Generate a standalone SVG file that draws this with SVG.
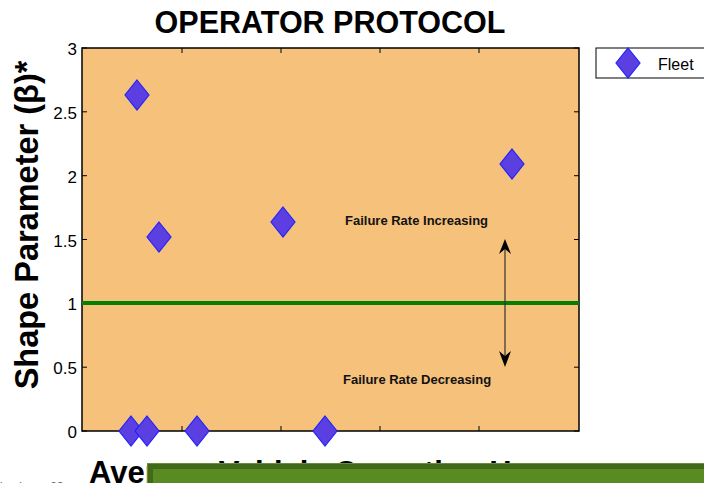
<svg xmlns="http://www.w3.org/2000/svg" width="704" height="483" viewBox="0 0 704 483">
<style>
.tk{font-family:"Liberation Sans",Arial,sans-serif;font-size:17px;fill:#000;text-anchor:end}
.ann{font-family:"Liberation Sans",Arial,sans-serif;font-size:13px;font-weight:bold;fill:#111}
.tick{stroke:#000;stroke-width:1}
.pt{fill:#5B3FE0;stroke:#2222FF;stroke-width:1.2}
</style>
<defs>
<path id="dia" d="M0,-15 L12,0 L0,15 L-12,0 Z"/>
</defs>
<rect width="704" height="483" fill="#fff"/>
<text x="330" y="33" font-family="Liberation Sans,Arial,sans-serif" font-size="30.5" font-weight="bold" text-anchor="middle">OPERATOR PROTOCOL</text>
<g id="plot">
<rect x="82" y="48" width="497" height="383" fill="#F5C17B" stroke="#000" stroke-width="1.5"/>
<g class="tick">
<path d="M82,48h5M82,111.8h5M82,175.7h5M82,239.5h5M82,303.3h5M82,367.2h5M82,431h5"/>
<path d="M579,48h-5M579,111.8h-5M579,175.7h-5M579,239.5h-5M579,303.3h-5M579,367.2h-5M579,431h-5"/>
<path d="M182,431v-5M281,431v-5M380,431v-5M479,431v-5"/>
<path d="M182,48v5M281,48v5M380,48v5M479,48v5"/>
</g>
<text class="tk" x="77" y="55">3</text>
<text class="tk" x="77" y="119">2.5</text>
<text class="tk" x="77" y="183">2</text>
<text class="tk" x="77" y="247">1.5</text>
<text class="tk" x="77" y="310">1</text>
<text class="tk" x="77" y="374">0.5</text>
<text class="tk" x="77" y="438">0</text>
<line x1="82" y1="303" x2="579" y2="303" stroke="#038003" stroke-width="4"/>
</g>
<text transform="translate(38,225) rotate(-90)" font-family="Liberation Sans,Arial,sans-serif" font-size="32.5" font-weight="bold" text-anchor="middle">Shape Parameter (β)*</text>
<g id="annotation">
<text class="ann" x="345" y="225">Failure Rate Increasing</text>
<text class="ann" x="343" y="384">Failure Rate Decreasing</text>
</g>
<g id="connectors">
<line x1="505" y1="248" x2="505" y2="358" stroke="#333" stroke-width="1.2"/>
<path d="M505,239 L499,254 L505,249 L511,254 Z" fill="#000"/>
<path d="M505,367 L499,351 L505,356 L511,351 Z" fill="#000"/>
</g>
<g id="points">
<use href="#dia" class="pt" x="137" y="95"/>
<use href="#dia" class="pt" x="159" y="237"/>
<use href="#dia" class="pt" x="283" y="222"/>
<use href="#dia" class="pt" x="512" y="164"/>
<use href="#dia" class="pt" x="131" y="431"/>
<use href="#dia" class="pt" x="147" y="431"/>
<use href="#dia" class="pt" x="197" y="431"/>
<use href="#dia" class="pt" x="325" y="431"/>
</g>
<g id="legend">
<rect x="596" y="48" width="120" height="30" fill="#fff" stroke="#000" stroke-width="1"/>
<use href="#dia" class="pt" x="628" y="63"/>
<text x="658" y="70" font-family="Liberation Sans,Arial,sans-serif" font-size="16">Fleet</text>
</g>
<text x="89" y="483" font-family="Liberation Sans,Arial,sans-serif" font-size="31" font-weight="bold">Average Vehicle Operating Hours</text>
<text x="-6" y="491" font-family="Liberation Sans,Arial,sans-serif" font-size="12" fill="#666">Number = 23</text>
<g id="bar">
<rect x="147" y="463" width="600" height="40" fill="#6B8E3A"/>
<rect x="148" y="464" width="600" height="40" fill="#416A18"/>
<rect x="153" y="469" width="600" height="40" fill="#5A8A22"/>
</g>
</svg>
